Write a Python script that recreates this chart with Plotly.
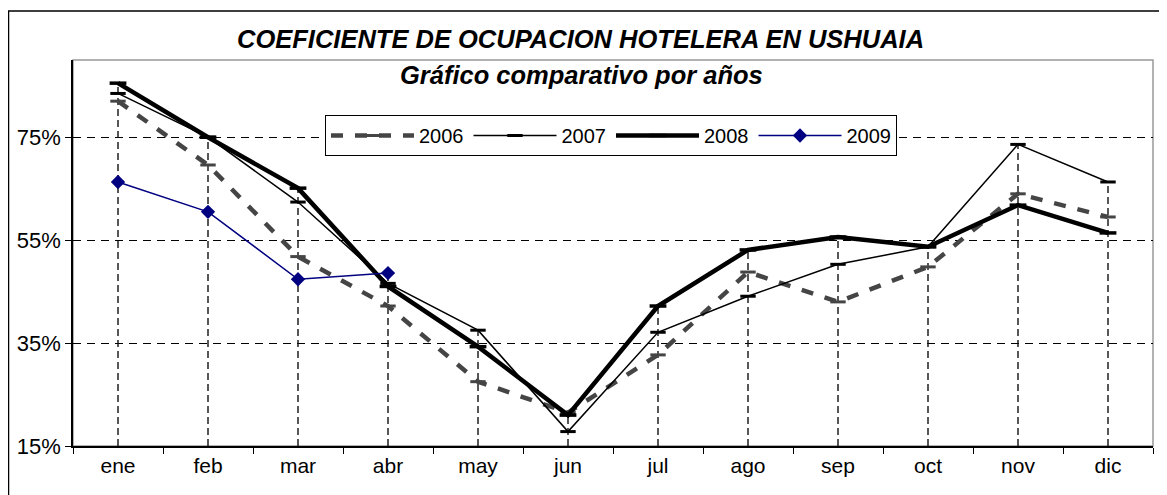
import plotly.graph_objects as go

months = ["ene", "feb", "mar", "abr", "may", "jun", "jul", "ago", "sep", "oct", "nov", "dic"]
y2006 = [82.0, 69.6, 51.8, 42.2, 27.5, 21.5, 32.7, 48.8, 43.0, 49.8, 64.0, 59.5]
y2007 = [83.5, 75.0, 62.4, 46.6, 37.5, 17.8, 37.1, 44.1, 50.3, 53.7, 73.6, 66.3]
y2008 = [85.5, 75.0, 65.1, 46.0, 34.3, 21.0, 42.2, 53.1, 55.6, 53.7, 61.8, 56.4]
y2009 = [66.3, 60.5, 47.4, 48.6]
y_ticks = [15, 35, 55, 75]
y_tick_labels = ["15%", "35%", "55%", "75%"]

title_text = "COEFICIENTE DE OCUPACION HOTELERA EN USHUAIA"
subtitle_text = "Gráfico comparativo por años"

FONT = "Liberation Sans, Arial, sans-serif"
Y_MIN, Y_MAX = 15, 90

# page body has an 8px margin: compensate so the plot lands where the reference has it
W, H = 1159, 487
ML, MR, MT, MB = 65, 14, 52, 49
PW, PH = W - ML - MR, H - MT - MB  # 1080 x 386


def px_x(sx):  # screen x -> paper x
    return (sx - 8 - ML) / PW


def px_y(sy):  # screen y -> paper y
    return (H - MB - (sy - 8)) / PH


# drop lines from highest value to the axis
drop_x, drop_y = [], []
for i, m in enumerate(months):
    vals = [y2006[i], y2007[i], y2008[i]] + ([y2009[i]] if i < len(y2009) else [])
    drop_x += [m, m, None]
    drop_y += [Y_MIN, max(vals), None]

fig = go.Figure()
fig.add_trace(go.Scatter(x=drop_x, y=drop_y, mode="lines",
                         line=dict(color="#111111", width=1.4, dash="7px,4px"),
                         showlegend=False, hoverinfo="skip"))

fig.add_trace(go.Scatter(x=months, y=y2006, name="2006", mode="lines+markers",
                         line=dict(color="#454545", width=4.5, dash="12px,12px"),
                         marker=dict(symbol="line-ew", size=11,
                                     line=dict(color="#454545", width=3))))
fig.add_trace(go.Scatter(x=months, y=y2007, name="2007", mode="lines+markers",
                         line=dict(color="black", width=1.5),
                         marker=dict(symbol="line-ew", size=11,
                                     line=dict(color="black", width=3))))
fig.add_trace(go.Scatter(x=months, y=y2008, name="2008", mode="lines+markers",
                         line=dict(color="black", width=4.5),
                         marker=dict(symbol="line-ew", size=12,
                                     line=dict(color="black", width=3.5))))
fig.add_trace(go.Scatter(x=months[:len(y2009)], y=y2009, name="2009", mode="lines+markers",
                         line=dict(color="#000080", width=1.5),
                         marker=dict(symbol="diamond", size=11, color="#000080")))

fig.update_layout(
    width=W, height=H,
    margin=dict(l=ML, r=MR, t=MT, b=MB, autoexpand=False),
    paper_bgcolor="white", plot_bgcolor="white",
    font=dict(family=FONT, size=20, color="black"),
    showlegend=True,
    legend=dict(orientation="h", x=px_x(325), y=px_y(115), xanchor="left", yanchor="top",
                bgcolor="white", bordercolor="black", borderwidth=1,
                font=dict(family=FONT, size=20), itemwidth=83,
                traceorder="normal", tracegroupgap=0),
    xaxis=dict(type="category", categoryorder="array", categoryarray=months,
               range=[-0.5, 11.5], showgrid=False, zeroline=False,
               showline=True, linecolor="black", linewidth=1.5,
               ticks="outside", ticklen=6, tickcolor="black", tickson="boundaries",
               tickfont=dict(family=FONT, size=21), fixedrange=True),
    yaxis=dict(range=[Y_MIN, Y_MAX], tickvals=y_ticks, ticktext=y_tick_labels,
               showgrid=True, gridcolor="black", gridwidth=1, griddash="8px,6px",
               zeroline=False, showline=True, linecolor="black", linewidth=1.5,
               ticks="outside", ticklen=6, tickcolor="black",
               tickfont=dict(family=FONT, size=22), fixedrange=True),
    annotations=[
        dict(text="<b><i>" + title_text + "</i></b>", xref="paper", yref="paper",
             x=px_x(580), y=px_y(39), xanchor="center", yanchor="middle", showarrow=False,
             font=dict(family=FONT, size=25.5, color="black")),
        dict(text="<b><i>" + subtitle_text + "</i></b>", xref="paper", yref="paper",
             x=px_x(581), y=px_y(75), xanchor="center", yanchor="middle", showarrow=False,
             font=dict(family=FONT, size=25.5, color="black")),
    ],
    shapes=[
        dict(type="rect", xref="paper", yref="paper", x0=0, y0=0, x1=1, y1=1,
             line=dict(color="#999999", width=1.5), layer="below"),
        dict(type="rect", xref="paper", yref="paper",
             x0=px_x(8.5), x1=px_x(1164), y0=px_y(510), y1=px_y(11),
             line=dict(color="black", width=1.5)),
    ],
)

fig.write_html("out.html")
